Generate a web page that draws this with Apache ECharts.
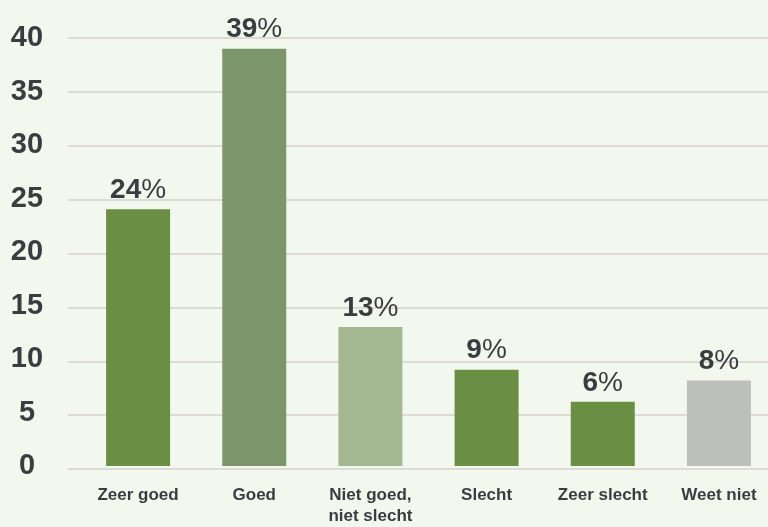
<!DOCTYPE html>
<html>
<head>
<meta charset="utf-8">
<script src="https://cdn.jsdelivr.net/npm/echarts@6/dist/echarts.min.js"></script>
<style>
  html, body { margin: 0; padding: 0; background: #f3f8ee; overflow: hidden; }
  #chart { width: 777px; height: 527px; }
</style>
</head>
<body>
<div id="chart"></div>
<script>
const categories = ['Zeer goed', 'Goed', 'Niet goed,\nniet slecht', 'Slecht', 'Zeer slecht', 'Weet niet'];
const values = [24, 39, 13, 9, 6, 8];
const barColors = ['#6a8f44', '#7d9669', '#a3b790', '#6a8f44', '#6a8f44', '#bcbfbb'];
const yTicks = { min: 0, max: 40, interval: 5 };

const font = 'Liberation Sans, Arial, sans-serif';
const myChart = echarts.init(document.getElementById('chart'));
const option = {
  backgroundColor: '#f3f8ee',
  animation: false,
  grid: [
    { left: 80, right: 0, top: 38, bottom: 58 },
    // gridlines only, they start a bit left of the first bar band
    { left: 68, right: 0, top: 38, bottom: 58 }
  ],
  xAxis: [{
    type: 'category',
    gridIndex: 0,
    data: categories,
    axisLine: { show: false },
    axisTick: { show: false },
    axisLabel: {
      margin: 19,
      interval: 0,
      color: '#3a3d40',
      fontSize: 17,
      fontWeight: 'bold',
      fontFamily: font,
      lineHeight: 21
    }
  }, {
    type: 'value',
    gridIndex: 1,
    show: false
  }],
  yAxis: [{
    type: 'value',
    gridIndex: 0,
    min: yTicks.min,
    max: yTicks.max,
    interval: yTicks.interval,
    axisLine: { show: false },
    axisTick: { show: false },
    splitLine: { show: false },
    axisLabel: {
      margin: 53,
      align: 'center',
      color: '#3a3d40',
      fontSize: 29,
      fontWeight: 'bold',
      fontFamily: font
    }
  }, {
    type: 'value',
    gridIndex: 1,
    min: yTicks.min,
    max: yTicks.max,
    interval: yTicks.interval,
    z: 0,
    axisLine: { show: false },
    axisTick: { show: false },
    axisLabel: { show: false },
    splitLine: { lineStyle: { color: '#dcdcd6', width: 2 } }
  }],
  series: [{
    type: 'bar',
    xAxisIndex: 0,
    yAxisIndex: 0,
    z: 5,
    barWidth: 64,
    data: values.map((v, i) => ({ value: v, itemStyle: { color: barColors[i] } })),
    label: {
      show: true,
      position: 'top',
      distance: 5,
      formatter: p => '{n|' + p.value + '}{p|%}',
      rich: {
        n: { color: '#3a3d40', fontSize: 28, fontWeight: 'bold', fontFamily: font },
        p: { color: '#3a3d40', fontSize: 28, fontFamily: font }
      }
    }
  }]
};
myChart.setOption(option);
</script>
</body>
</html>
